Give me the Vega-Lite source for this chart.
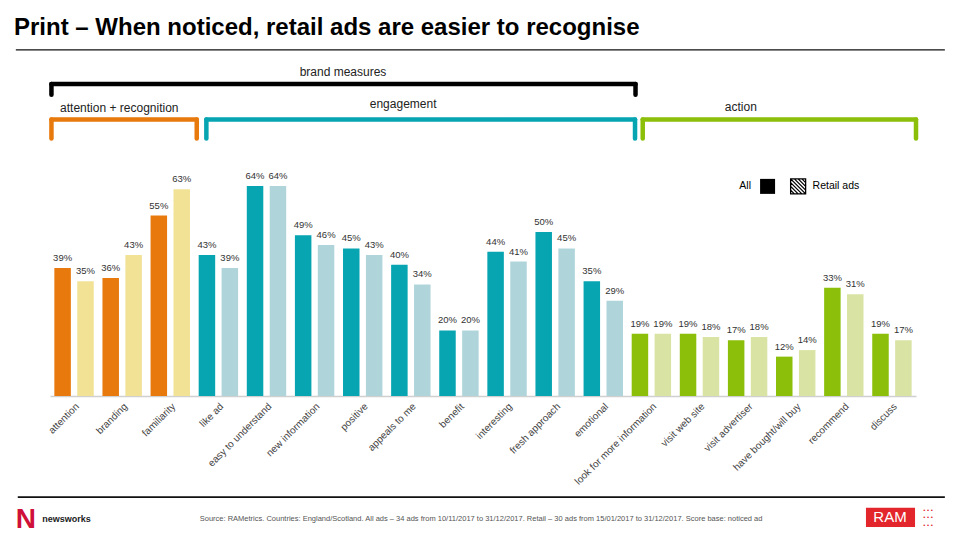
{
"$schema": "https://vega.github.io/schema/vega-lite/v6.json",
"width": 866,
"height": 351,
"autosize": {"type": "none"},
"padding": {"left": 50, "top": 45, "right": 44, "bottom": 144},
"background": "white",
"config": {"view": {"stroke": null}, "font": "Liberation Sans", "axisX": {"labelAngle": -45, "labelAlign": "right", "labelBaseline": "top", "labelPadding": 5, "labelFontSize": 10, "labelColor": "#444444", "ticks": false, "domainColor": "#d0d0d0", "domainWidth": 1.5, "labelOverlap": false, "labelLimit": 300, "grid": false}},
"title": {"text": "Print – When noticed, retail ads are easier to recognise", "anchor": "start", "frame": "group", "dx": -36, "offset": 5, "font": "Liberation Sans", "fontSize": 24, "fontWeight": "bold", "color": "#000000"},
"datasets": {
"bars": [
{"measure": "attention", "group": "attention + recognition", "series": "All", "value": 0.39},
{"measure": "attention", "group": "attention + recognition", "series": "Retail ads", "value": 0.35},
{"measure": "branding", "group": "attention + recognition", "series": "All", "value": 0.36},
{"measure": "branding", "group": "attention + recognition", "series": "Retail ads", "value": 0.43},
{"measure": "familiarity", "group": "attention + recognition", "series": "All", "value": 0.55},
{"measure": "familiarity", "group": "attention + recognition", "series": "Retail ads", "value": 0.63},
{"measure": "like ad", "group": "engagement", "series": "All", "value": 0.43},
{"measure": "like ad", "group": "engagement", "series": "Retail ads", "value": 0.39},
{"measure": "easy to understand", "group": "engagement", "series": "All", "value": 0.64},
{"measure": "easy to understand", "group": "engagement", "series": "Retail ads", "value": 0.64},
{"measure": "new information", "group": "engagement", "series": "All", "value": 0.49},
{"measure": "new information", "group": "engagement", "series": "Retail ads", "value": 0.46},
{"measure": "positive", "group": "engagement", "series": "All", "value": 0.45},
{"measure": "positive", "group": "engagement", "series": "Retail ads", "value": 0.43},
{"measure": "appeals to me", "group": "engagement", "series": "All", "value": 0.40},
{"measure": "appeals to me", "group": "engagement", "series": "Retail ads", "value": 0.34},
{"measure": "benefit", "group": "engagement", "series": "All", "value": 0.20},
{"measure": "benefit", "group": "engagement", "series": "Retail ads", "value": 0.20},
{"measure": "interesting", "group": "engagement", "series": "All", "value": 0.44},
{"measure": "interesting", "group": "engagement", "series": "Retail ads", "value": 0.41},
{"measure": "fresh approach", "group": "engagement", "series": "All", "value": 0.50},
{"measure": "fresh approach", "group": "engagement", "series": "Retail ads", "value": 0.45},
{"measure": "emotional", "group": "engagement", "series": "All", "value": 0.35},
{"measure": "emotional", "group": "engagement", "series": "Retail ads", "value": 0.29},
{"measure": "look for more information", "group": "action", "series": "All", "value": 0.19},
{"measure": "look for more information", "group": "action", "series": "Retail ads", "value": 0.19},
{"measure": "visit web site", "group": "action", "series": "All", "value": 0.19},
{"measure": "visit web site", "group": "action", "series": "Retail ads", "value": 0.18},
{"measure": "visit advertiser", "group": "action", "series": "All", "value": 0.17},
{"measure": "visit advertiser", "group": "action", "series": "Retail ads", "value": 0.18},
{"measure": "have bought/will buy", "group": "action", "series": "All", "value": 0.12},
{"measure": "have bought/will buy", "group": "action", "series": "Retail ads", "value": 0.14},
{"measure": "recommend", "group": "action", "series": "All", "value": 0.33},
{"measure": "recommend", "group": "action", "series": "Retail ads", "value": 0.31},
{"measure": "discuss", "group": "action", "series": "All", "value": 0.19},
{"measure": "discuss", "group": "action", "series": "Retail ads", "value": 0.17}
]
},
"data": {"name": "bars"},
"layer": [
{
"transform": [{"filter": "datum.series === 'All'"}],
"mark": {"type": "bar"},
"encoding": {
"x": {"field": "measure", "type": "nominal", "sort": null, "title": null,
"scale": {"domain": ["attention","branding","familiarity","like ad","easy to understand","new information","positive","appeals to me","benefit","interesting","fresh approach","emotional","look for more information","visit web site","visit advertiser","have bought/will buy","recommend","discuss"], "paddingInner": 0, "paddingOuter": 0}},
"xOffset": {"field": "series", "type": "nominal", "scale": {"domain": ["All", "Retail ads"], "paddingInner": 0.28, "paddingOuter": 0.19}},
"y": {"field": "value", "type": "quantitative", "scale": {"domain": [0, 1.07], "nice": false}, "axis": null},
"color": {"field": "group", "type": "nominal", "scale": {"domain": ["attention + recognition", "engagement", "action"], "range": ["#e8790c", "#06a5b1", "#8cbf0a"]}, "legend": null}
}
},
{
"transform": [{"filter": "datum.series === 'Retail ads'"}],
"mark": {"type": "bar"},
"encoding": {
"x": {"field": "measure", "type": "nominal", "sort": null, "title": null},
"xOffset": {"field": "series", "type": "nominal"},
"y": {"field": "value", "type": "quantitative", "scale": {"domain": [0, 1.07], "nice": false}, "axis": null},
"fill": {"field": "group", "type": "nominal", "scale": {"domain": ["attention + recognition", "engagement", "action"], "range": ["#f1e296", "#afd5db", "#d9e3a3"]}, "legend": null}
}
},
{
"mark": {"type": "text", "dy": -5, "fontSize": 9.5, "color": "#333333", "baseline": "bottom"},
"encoding": {
"x": {"field": "measure", "type": "nominal", "sort": null, "title": null},
"xOffset": {"field": "series", "type": "nominal"},
"y": {"field": "value", "type": "quantitative", "scale": {"domain": [0, 1.07], "nice": false}, "axis": null},
"text": {"field": "value", "type": "quantitative", "format": ".0%"}
}
},
{"data": {"values": [{}]}, "mark": {"type": "rule", "color": "#000000", "strokeWidth": 4.5, "strokeCap": "round"},
"encoding": {"x": {"datum": "attention", "type": "nominal", "bandPosition": 0.03, "title": null}, "y": {"datum": 0.918, "type": "quantitative", "scale": {"domain": [0, 1.07], "nice": false}, "axis": null}, "y2": {"datum": 0.951}}},
{"data": {"values": [{}]}, "mark": {"type": "rule", "color": "#000000", "strokeWidth": 4.5, "strokeCap": "round"},
"encoding": {"x": {"datum": "look for more information", "type": "nominal", "bandPosition": 0.17, "title": null}, "y": {"datum": 0.918, "type": "quantitative", "scale": {"domain": [0, 1.07], "nice": false}, "axis": null}, "y2": {"datum": 0.951}}},
{"data": {"values": [{}]}, "mark": {"type": "rule", "color": "#000000", "strokeWidth": 4.5, "strokeCap": "round"},
"encoding": {"x": {"datum": "attention", "type": "nominal", "bandPosition": 0.03, "title": null}, "x2": {"datum": "look for more information", "bandPosition": 0.17}, "y": {"datum": 0.951, "type": "quantitative", "scale": {"domain": [0, 1.07], "nice": false}, "axis": null}}},
{"data": {"values": [{}]}, "mark": {"type": "rule", "color": "#e8790c", "strokeWidth": 4.5, "strokeCap": "round"},
"encoding": {"x": {"datum": "attention", "type": "nominal", "bandPosition": 0.03, "title": null}, "y": {"datum": 0.785, "type": "quantitative", "scale": {"domain": [0, 1.07], "nice": false}, "axis": null}, "y2": {"datum": 0.843}}},
{"data": {"values": [{}]}, "mark": {"type": "rule", "color": "#e8790c", "strokeWidth": 4.5, "strokeCap": "round"},
"encoding": {"x": {"datum": "familiarity", "type": "nominal", "bandPosition": 1.05, "title": null}, "y": {"datum": 0.785, "type": "quantitative", "scale": {"domain": [0, 1.07], "nice": false}, "axis": null}, "y2": {"datum": 0.843}}},
{"data": {"values": [{}]}, "mark": {"type": "rule", "color": "#e8790c", "strokeWidth": 4.5, "strokeCap": "round"},
"encoding": {"x": {"datum": "attention", "type": "nominal", "bandPosition": 0.03, "title": null}, "x2": {"datum": "familiarity", "bandPosition": 1.05}, "y": {"datum": 0.843, "type": "quantitative", "scale": {"domain": [0, 1.07], "nice": false}, "axis": null}}},
{"data": {"values": [{}]}, "mark": {"type": "rule", "color": "#06a5b1", "strokeWidth": 4.5, "strokeCap": "round"},
"encoding": {"x": {"datum": "like ad", "type": "nominal", "bandPosition": 0.25, "title": null}, "y": {"datum": 0.785, "type": "quantitative", "scale": {"domain": [0, 1.07], "nice": false}, "axis": null}, "y2": {"datum": 0.843}}},
{"data": {"values": [{}]}, "mark": {"type": "rule", "color": "#06a5b1", "strokeWidth": 4.5, "strokeCap": "round"},
"encoding": {"x": {"datum": "emotional", "type": "nominal", "bandPosition": 1.16, "title": null}, "y": {"datum": 0.785, "type": "quantitative", "scale": {"domain": [0, 1.07], "nice": false}, "axis": null}, "y2": {"datum": 0.843}}},
{"data": {"values": [{}]}, "mark": {"type": "rule", "color": "#06a5b1", "strokeWidth": 4.5, "strokeCap": "round"},
"encoding": {"x": {"datum": "like ad", "type": "nominal", "bandPosition": 0.25, "title": null}, "x2": {"datum": "emotional", "bandPosition": 1.16}, "y": {"datum": 0.843, "type": "quantitative", "scale": {"domain": [0, 1.07], "nice": false}, "axis": null}}},
{"data": {"values": [{}]}, "mark": {"type": "rule", "color": "#8cbf0a", "strokeWidth": 4.5, "strokeCap": "round"},
"encoding": {"x": {"datum": "look for more information", "type": "nominal", "bandPosition": 0.32, "title": null}, "y": {"datum": 0.785, "type": "quantitative", "scale": {"domain": [0, 1.07], "nice": false}, "axis": null}, "y2": {"datum": 0.843}}},
{"data": {"values": [{}]}, "mark": {"type": "rule", "color": "#8cbf0a", "strokeWidth": 4.5, "strokeCap": "round"},
"encoding": {"x": {"datum": "discuss", "type": "nominal", "bandPosition": 1.0, "title": null}, "y": {"datum": 0.785, "type": "quantitative", "scale": {"domain": [0, 1.07], "nice": false}, "axis": null}, "y2": {"datum": 0.843}}},
{"data": {"values": [{}]}, "mark": {"type": "rule", "color": "#8cbf0a", "strokeWidth": 4.5, "strokeCap": "round"},
"encoding": {"x": {"datum": "look for more information", "type": "nominal", "bandPosition": 0.32, "title": null}, "x2": {"datum": "discuss", "bandPosition": 1.0}, "y": {"datum": 0.843, "type": "quantitative", "scale": {"domain": [0, 1.07], "nice": false}, "axis": null}}},
{"data": {"values": [{}]}, "mark": {"type": "text", "text": "brand measures", "fontSize": 12, "color": "#222222", "align": "center", "baseline": "middle"},
"encoding": {"x": {"datum": "positive", "type": "nominal", "bandPosition": 0.09, "title": null}, "y": {"datum": 0.988, "type": "quantitative", "scale": {"domain": [0, 1.07], "nice": false}, "axis": null}}},
{"data": {"values": [{}]}, "mark": {"type": "text", "text": "attention + recognition", "fontSize": 12, "color": "#222222", "align": "center", "baseline": "middle"},
"encoding": {"x": {"datum": "branding", "type": "nominal", "bandPosition": 0.44, "title": null}, "y": {"datum": 0.878, "type": "quantitative", "scale": {"domain": [0, 1.07], "nice": false}, "axis": null}}},
{"data": {"values": [{}]}, "mark": {"type": "text", "text": "engagement", "fontSize": 12, "color": "#222222", "align": "center", "baseline": "middle"},
"encoding": {"x": {"datum": "appeals to me", "type": "nominal", "bandPosition": 0.34, "title": null}, "y": {"datum": 0.89, "type": "quantitative", "scale": {"domain": [0, 1.07], "nice": false}, "axis": null}}},
{"data": {"values": [{}]}, "mark": {"type": "text", "text": "action", "fontSize": 12, "color": "#222222", "align": "center", "baseline": "middle"},
"encoding": {"x": {"datum": "visit advertiser", "type": "nominal", "bandPosition": 0.36, "title": null}, "y": {"datum": 0.881, "type": "quantitative", "scale": {"domain": [0, 1.07], "nice": false}, "axis": null}}},
{"data": {"values": [{}]}, "mark": {"type": "rule", "color": "#111111", "strokeWidth": 1.3},
"encoding": {"x": {"datum": "attention", "type": "nominal", "bandPosition": -0.71, "title": null}, "x2": {"datum": "discuss", "bandPosition": 1.6}, "y": {"datum": 1.055, "type": "quantitative", "scale": {"domain": [0, 1.07], "nice": false}, "axis": null}}},
{"data": {"values": [{}]}, "mark": {"type": "text", "text": "All", "fontSize": 10.5, "color": "#000000", "align": "right", "baseline": "middle"},
"encoding": {"x": {"datum": "visit advertiser", "type": "nominal", "bandPosition": 0.57, "title": null}, "y": {"datum": 0.639, "type": "quantitative", "scale": {"domain": [0, 1.07], "nice": false}, "axis": null}}},
{"data": {"values": [{}]}, "mark": {"type": "square", "size": 225, "color": "#000000", "opacity": 1},
"encoding": {"x": {"datum": "visit advertiser", "type": "nominal", "bandPosition": 0.915, "title": null}, "y": {"datum": 0.639, "type": "quantitative", "scale": {"domain": [0, 1.07], "nice": false}, "axis": null}}},
{"data": {"values": [{}]}, "mark": {"type": "point", "shape": "M-1,-1H1V1H-1Z M-1,-1L1,1 M-0.5,-1L1,0.5 M0,-1L1,0 M0.5,-1L1,-0.5 M-1,-0.5L0.5,1 M-1,0L0,1 M-1,0.5L-0.5,1", "size": 225, "filled": false, "stroke": "#000000", "strokeWidth": 1.3, "opacity": 1},
"encoding": {"x": {"datum": "have bought/will buy", "type": "nominal", "bandPosition": 0.55, "title": null}, "y": {"datum": 0.639, "type": "quantitative", "scale": {"domain": [0, 1.07], "nice": false}, "axis": null}}},
{"data": {"values": [{}]}, "mark": {"type": "text", "text": "Retail ads", "fontSize": 10.5, "color": "#000000", "align": "left", "baseline": "middle"},
"encoding": {"x": {"datum": "have bought/will buy", "type": "nominal", "bandPosition": 0.85, "title": null}, "y": {"datum": 0.639, "type": "quantitative", "scale": {"domain": [0, 1.07], "nice": false}, "axis": null}}},
{"data": {"values": [{}]}, "mark": {"type": "rule", "color": "#111111", "strokeWidth": 1.8},
"encoding": {"x": {"datum": "attention", "type": "nominal", "bandPosition": -0.67, "title": null}, "x2": {"datum": "discuss", "bandPosition": 1.6}, "y": {"datum": -0.308, "type": "quantitative", "scale": {"domain": [0, 1.07], "nice": false}, "axis": null}}},
{"data": {"values": [{}]}, "mark": {"type": "text", "text": "N", "fontSize": 28, "fontWeight": "bold", "color": "#cf1038", "align": "center", "baseline": "alphabetic"},
"encoding": {"x": {"datum": "attention", "type": "nominal", "bandPosition": -0.5, "title": null}, "y": {"datum": -0.402, "type": "quantitative", "scale": {"domain": [0, 1.07], "nice": false}, "axis": null}}},
{"data": {"values": [{}]}, "mark": {"type": "text", "text": "newsworks", "fontSize": 9, "fontWeight": "bold", "color": "#222222", "align": "left", "baseline": "middle"},
"encoding": {"x": {"datum": "attention", "type": "nominal", "bandPosition": -0.16, "title": null}, "y": {"datum": -0.375, "type": "quantitative", "scale": {"domain": [0, 1.07], "nice": false}, "axis": null}}},
{"data": {"values": [{}]}, "mark": {"type": "text", "text": "Source: RAMetrics. Countries: England/Scotland. All ads – 34 ads from 10/11/2017 to 31/12/2017. Retail – 30 ads from 15/01/2017 to 31/12/2017. Score base: noticed ad", "fontSize": 7.5, "color": "#555555", "align": "center", "baseline": "middle"},
"encoding": {"x": {"datum": "benefit", "type": "nominal", "bandPosition": 0.96, "title": null}, "y": {"datum": -0.375, "type": "quantitative", "scale": {"domain": [0, 1.07], "nice": false}, "axis": null}}},
{"data": {"values": [{}]}, "mark": {"type": "rect", "color": "#e3262c"},
"encoding": {"x": {"datum": "discuss", "type": "nominal", "bandPosition": -0.04, "title": null}, "x2": {"datum": "discuss", "bandPosition": 0.98}, "y": {"datum": -0.341, "type": "quantitative", "scale": {"domain": [0, 1.07], "nice": false}, "axis": null}, "y2": {"datum": -0.399}}},
{"data": {"values": [{}]}, "mark": {"type": "text", "text": "RAM", "fontSize": 15, "color": "#ffffff", "align": "center", "baseline": "middle"},
"encoding": {"x": {"datum": "discuss", "type": "nominal", "bandPosition": 0.46, "title": null}, "y": {"datum": -0.37, "type": "quantitative", "scale": {"domain": [0, 1.07], "nice": false}, "axis": null}}},
{"data": {"values": [{}]}, "mark": {"type": "text", "text": "• • •", "fontSize": 6, "color": "#e3262c", "align": "center", "baseline": "middle"},
"encoding": {"x": {"datum": "discuss", "type": "nominal", "bandPosition": 1.25, "title": null}, "y": {"datum": -0.348, "type": "quantitative", "scale": {"domain": [0, 1.07], "nice": false}, "axis": null}}},
{"data": {"values": [{}]}, "mark": {"type": "text", "text": "• • •", "fontSize": 6, "color": "#e3262c", "align": "center", "baseline": "middle"},
"encoding": {"x": {"datum": "discuss", "type": "nominal", "bandPosition": 1.25, "title": null}, "y": {"datum": -0.370, "type": "quantitative", "scale": {"domain": [0, 1.07], "nice": false}, "axis": null}}},
{"data": {"values": [{}]}, "mark": {"type": "text", "text": "• • •", "fontSize": 6, "color": "#e3262c", "align": "center", "baseline": "middle"},
"encoding": {"x": {"datum": "discuss", "type": "nominal", "bandPosition": 1.25, "title": null}, "y": {"datum": -0.392, "type": "quantitative", "scale": {"domain": [0, 1.07], "nice": false}, "axis": null}}}
]
}
